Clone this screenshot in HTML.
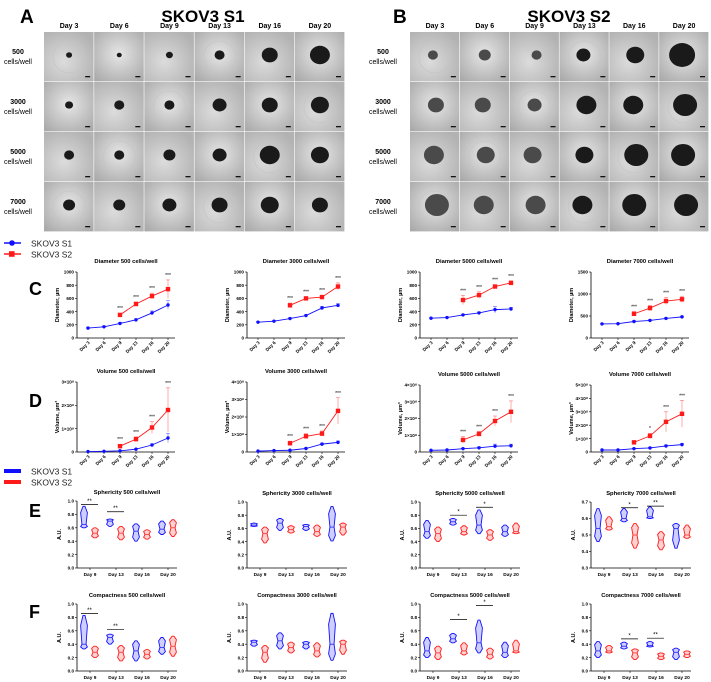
<!DOCTYPE html>
<html><head><meta charset="utf-8">
<style>
html,body{margin:0;padding:0;background:#fff;}
svg{display:block;font-family:"Liberation Sans",Arial,sans-serif;}
</style></head>
<body>
<svg id="fig" width="711" height="682" viewBox="0 0 711 682">
<defs>
<radialGradient id="bg1" cx="50%" cy="45%" r="70%"><stop offset="0" stop-color="#e6e6e6"/><stop offset="1" stop-color="#a9a9a9"/></radialGradient>
<radialGradient id="bg2" cx="40%" cy="60%" r="70%"><stop offset="0" stop-color="#dcdcdc"/><stop offset="1" stop-color="#b2b2b2"/></radialGradient>
</defs>
<g id="gridA"></g>
<g id="gridB"></g>
<g id="charts"></g>
</svg>
<script>
const NS="http://www.w3.org/2000/svg";
const days=["Day 3","Day 6","Day 9","Day 13","Day 16","Day 20"];
const vdays=["Day 9","Day 13","Day 16","Day 20"];
const rowsLbl=["500","3000","5000","7000"];
// spheroid radii (px) per row/day
const sizesA=[[3,2.5,3.5,5,8,10],[4,5,5,7,8,9],[5,5,6,7,10,9],[6,6,7,8,9,8]];
const sizesB=[[5,6,5,7,9,13],[8,8,7,10,10,12],[10,9,9,9,12,12],[12,10,10,10,12,12]];
// line chart data
const diam500S1=[150,170,220,275,380,500], diam500S2=[null,null,350,515,635,740];
const diam500E1=[8,10,15,15,30,65], diam500E2=[0,0,25,30,45,140];
const diam3000S1=[240,255,295,340,455,495], diam3000S2=[null,null,495,600,620,780];
const diam3000E1=[8,8,10,12,25,25], diam3000E2=[0,0,35,25,20,55];
const diam5000S1=[300,310,350,380,430,440], diam5000S2=[null,null,575,650,780,835];
const diam5000E1=[8,8,10,15,50,25], diam5000E2=[0,0,70,50,20,30];
const diam7000S1=[320,325,375,400,445,480], diam7000S2=[null,null,550,680,840,880];
const diam7000E1=[10,10,15,15,15,15], diam7000E2=[0,0,50,60,80,70];
const vol500S1=[0.02,0.03,0.05,0.12,0.3,0.6], vol500S2=[null,null,0.25,0.55,1.05,1.8];
const vol500E1=[0,0,0,0.03,0.05,0.2], vol500E2=[0,0,0.04,0.1,0.25,0.95];
const vol3000S1=[0.05,0.08,0.1,0.2,0.45,0.55], vol3000S2=[null,null,0.5,0.9,1.05,2.35];
const vol3000E1=[0,0,0.02,0.04,0.06,0.08], vol3000E2=[0,0,0.12,0.15,0.15,0.75];
const vol5000S1=[0.1,0.12,0.2,0.25,0.35,0.37], vol5000S2=[null,null,0.72,1.08,1.85,2.4];
const vol5000E1=[0,0,0.03,0.05,0.12,0.1], vol5000E2=[0,0,0.2,0.15,0.3,0.65];
const vol7000S1=[0.15,0.15,0.25,0.3,0.45,0.55], vol7000S2=[null,null,0.72,1.2,2.25,2.85];
const vol7000E1=[0,0,0.03,0.05,0.08,0.08], vol7000E2=[0,0,0.1,0.2,0.75,1.0];
const sigLine500=["","","***","***","***","***"];
const sigLine7000v=["","","","*","***","***"];
// violin data [min,max,median] per day: blue then red
const sph500B=[[0.6,0.92,0.65],[0.62,0.73,0.7],[0.4,0.66,0.55],[0.5,0.7,0.58]];
const sph500R=[[0.45,0.6,0.52],[0.42,0.62,0.52],[0.43,0.57,0.5],[0.47,0.72,0.6]];
const sph3000B=[[0.63,0.68,0.65],[0.57,0.75,0.68],[0.57,0.66,0.63],[0.41,0.93,0.62]];
const sph3000R=[[0.38,0.62,0.52],[0.53,0.64,0.58],[0.48,0.65,0.55],[0.5,0.68,0.62]];
const sph5000B=[[0.45,0.72,0.55],[0.65,0.75,0.7],[0.52,0.88,0.65],[0.48,0.65,0.55]];
const sph5000R=[[0.4,0.62,0.52],[0.5,0.64,0.55],[0.42,0.58,0.5],[0.52,0.68,0.55]];
const sph7000B=[[0.46,0.66,0.54],[0.58,0.66,0.6],[0.6,0.67,0.61],[0.42,0.57,0.54]];
const sph7000R=[[0.53,0.61,0.55],[0.42,0.57,0.5],[0.41,0.52,0.47],[0.48,0.56,0.5]];
const cmp500B=[[0.33,0.83,0.4],[0.4,0.55,0.5],[0.15,0.45,0.3],[0.25,0.5,0.35]];
const cmp500R=[[0.2,0.37,0.28],[0.15,0.38,0.28],[0.18,0.32,0.25],[0.22,0.52,0.37]];
const cmp3000B=[[0.37,0.46,0.43],[0.33,0.57,0.45],[0.33,0.44,0.4],[0.16,0.86,0.4]];
const cmp3000R=[[0.13,0.38,0.28],[0.27,0.43,0.35],[0.21,0.42,0.3],[0.25,0.46,0.4]];
const cmp5000B=[[0.2,0.5,0.3],[0.42,0.56,0.48],[0.27,0.76,0.42],[0.2,0.43,0.28]];
const cmp5000R=[[0.17,0.37,0.27],[0.24,0.42,0.3],[0.18,0.34,0.25],[0.27,0.46,0.3]];
const cmp7000B=[[0.2,0.44,0.3],[0.33,0.43,0.37],[0.36,0.44,0.38],[0.17,0.34,0.28]];
const cmp7000R=[[0.27,0.38,0.3],[0.17,0.33,0.27],[0.17,0.27,0.22],[0.2,0.3,0.25]];
// significance: [dayIndex, level, label]
const sigSph500=[[0,0.95,"**"],[1,0.84,"**"]];
const sigSph5000=[[1,0.8,"*"],[2,0.92,"*"]];
const sigSph7000=[[1,0.665,"*"],[2,0.675,"**"]];
const sigCmp500=[[0,0.86,"**"],[1,0.62,"**"]];
const sigCmp5000=[[1,0.77,"*"],[2,0.98,"*"]];
const sigCmp7000=[[1,0.48,"*"],[2,0.49,"**"]];
const sigNone=[];

const BLUE="#1010ff", RED="#ff1a1a";
function mk(tag,attrs,parent,text){const e=document.createElementNS(NS,tag);for(const k in attrs)e.setAttribute(k,attrs[k]);if(text!=null)e.textContent=text;(parent||document.getElementById('charts')).appendChild(e);return e;}

// ---------- image grids ----------
function grid(gid,x0,sizes,title,letter,lblX,letterX,titleX,blobby){
  const g=document.getElementById(gid);
  const cw=(gid==='gridA'?301:299)/6, rh=50;
  let t=mk('text',{x:titleX,y:22,'font-size':17,'font-weight':'bold','text-anchor':'middle'},g,title);
  
  t=mk('text',{x:letterX,y:23,'font-size':19,'font-weight':'bold'},g,letter);
  
  days.forEach((d,i)=>{const e=mk('text',{x:x0+cw*i+cw/2,y:28,'font-size':7,'font-weight':'bold','text-anchor':'middle'},g,d);
    });
  rowsLbl.forEach((r,j)=>{const y=32+rh*j;
    let e=mk('text',{x:lblX,y:y+22,'font-size':7,'font-weight':'bold','text-anchor':'middle'},g,r);
    
    e=mk('text',{x:lblX,y:y+32,'font-size':7,'text-anchor':'middle'},g,'cells/well');
    
    days.forEach((d,i)=>{const x=x0+cw*i;
      const c=mk('rect',{x:x,y:y,width:cw-0.6,height:rh-0.6,fill:(i+j)%2?'url(#bg1)':'url(#bg2)'},g);
      
      if((i+j)%3===0)mk('circle',{cx:x+cw/2,cy:y+rh/2,r:16,fill:'none',stroke:'#c4c4c4','stroke-width':0.6},g);
      const r=sizes[j][i];
      const s=mk('ellipse',{cx:x+cw/2+(blobby?((i*7+j*3)%5-2):0),cy:y+rh/2-2,rx:r,ry:r*0.92,fill:blobby&&i<3?'#4a4a4a':'#1a1a1a'},g);
      
      const sb=mk('rect',{x:x+cw-9,y:y+rh-6,width:5,height:1.3,fill:'#111'},g);
      
    });
  });
}
grid('gridA',44,sizesA,'SKOV3 S1','A',18,20,203,false);
grid('gridB',410,sizesB,'SKOV3 S2','B',383,393,569,true);

// ---------- legends ----------
function legend(y,style){
  const g=mk('g',{});
  [[BLUE,'SKOV3 S1'],[RED,'SKOV3 S2']].forEach((it,k)=>{const yy=y+k*11;
    if(style==='line'){mk('line',{x1:4,x2:21,y1:yy,y2:yy,stroke:it[0],'stroke-width':1.6},g);
      if(k===0)mk('circle',{cx:12,cy:yy,r:2.8,fill:it[0]},g);else mk('rect',{x:9,y:yy-2.8,width:5.6,height:5.6,fill:it[0]},g);}
    else mk('rect',{x:4,y:yy-2,width:17,height:4,fill:it[0]},g);
    const t=mk('text',{x:31,y:yy+3.5,'font-size':8.5,fill:'#222'},g,it[1]);
    
  });
}
legend(243,'line');legend(471,'bar');

function letter(x,y,s){const t=mk('text',{x:x,y:y,'font-size':18,'font-weight':'bold'},null,s);
  }
letter(29,295,'C');letter(29,407,'D');letter(29,517,'E');letter(29,618,'F');

// ---------- line charts ----------
function lineChart(ax,top,bot,title,ylabel,ymax,ticks,tickLbl,s1,s2,e1,e2,sig){
  const g=mk('g',{});
  const xs=i=>ax+11+i*16, ys=v=>bot-(v/ymax)*(bot-top);
  const right=ax+98;
  let t=mk('text',{x:(ax+right)/2,y:top-9,'font-size':5.8,'font-weight':'bold','text-anchor':'middle'},g,title);
  
  mk('line',{x1:ax,x2:ax,y1:top,y2:bot,stroke:'#000','stroke-width':0.8},g);
  mk('line',{x1:ax,x2:right,y1:bot,y2:bot,stroke:'#000','stroke-width':0.8},g);
  ticks.forEach((v,k)=>{mk('line',{x1:ax-2,x2:ax,y1:ys(v),y2:ys(v),stroke:'#000','stroke-width':0.6},g);
    const l=mk('text',{x:ax-3,y:ys(v)+1.7,'font-size':4.6,'font-weight':'bold','text-anchor':'end'},g,tickLbl[k]);
    });
  t=mk('text',{x:0,y:0,'font-size':5.5,'font-weight':'bold','text-anchor':'middle',transform:`translate(${ax-18},${(top+bot)/2}) rotate(-90)`},g,ylabel);
  
  days.forEach((d,i)=>{mk('line',{x1:xs(i),x2:xs(i),y1:bot,y2:bot+2,stroke:'#000','stroke-width':0.6},g);
    const l=mk('text',{x:0,y:0,'font-size':4.6,'font-weight':'bold','text-anchor':'end',transform:`translate(${xs(i)+2},${bot+5}) rotate(-45)`},g,d);
    });
  [[s1,e1,BLUE,'s1'],[s2,e2,RED,'s2']].forEach(([s,e,c,nm])=>{
    const pts=[];s.forEach((v,i)=>{if(v!=null)pts.push([xs(i),ys(v),i]);});
    const pl=mk('polyline',{points:pts.map(p=>p[0]+','+p[1]).join(' '),fill:'none',stroke:c,'stroke-width':0.9},g);
    
    pts.forEach(p=>{const v=s[p[2]],er=e[p[2]];
      if(er>0){mk('line',{x1:p[0],x2:p[0],y1:ys(v-er),y2:ys(Math.min(v+er,ymax*1.05)),stroke:c,'stroke-width':0.6,opacity:0.6},g);
        mk('line',{x1:p[0]-2,x2:p[0]+2,y1:ys(v+er),y2:ys(v+er),stroke:c,'stroke-width':0.6,opacity:0.6},g);}
      const m=nm==='s1'?mk('circle',{cx:p[0],cy:p[1],r:1.7,fill:c},g):mk('rect',{x:p[0]-2.2,y:p[1]-2.2,width:4.4,height:4.4,fill:c},g);
      });
  });
  sig.forEach((sg,i)=>{if(!sg||s2[i]==null)return;const yy=ys(s2[i]+e2[i])-3;
    const l=mk('text',{x:xs(i),y:Math.min(yy,ys(s2[i])-5),'font-size':5,'text-anchor':'middle'},g,sg);
    });
}
const cols=[77,247,420,591];
const dT=[0,200,400,600,800,1000], dL=["0","200","400","600","800","1000"];
lineChart(cols[0],272,338,'Diameter 500 cells/well','Diameter, µm',1000,dT,dL,diam500S1,diam500S2,diam500E1,diam500E2,sigLine500);
lineChart(cols[1],272,338,'Diameter 3000 cells/well','Diameter, µm',1000,dT,dL,diam3000S1,diam3000S2,diam3000E1,diam3000E2,sigLine500);
lineChart(cols[2],272,338,'Diameter 5000 cells/well','Diameter, µm',1000,dT,dL,diam5000S1,diam5000S2,diam5000E1,diam5000E2,sigLine500);
lineChart(cols[3],272,338,'Diameter 7000 cells/well','Diameter, µm',1500,[0,500,1000,1500],["0","500","1000","1500"],diam7000S1,diam7000S2,diam7000E1,diam7000E2,sigLine500);
lineChart(cols[0],382,452,'Volume 500 cells/well','Volume, µm³',3,[0,1,2,3],["0","1×10⁸","2×10⁸","3×10⁸"],vol500S1,vol500S2,vol500E1,vol500E2,sigLine500);
lineChart(cols[1],382,452,'Volume 3000 cells/well','Volume, µm³',4,[0,1,2,3,4],["0","1×10⁸","2×10⁸","3×10⁸","4×10⁸"],vol3000S1,vol3000S2,vol3000E1,vol3000E2,sigLine500);
lineChart(cols[2],385,452,'Volume 5000 cells/well','Volume, µm³',4,[0,1,2,3,4],["0","1×10⁸","2×10⁸","3×10⁸","4×10⁸"],vol5000S1,vol5000S2,vol5000E1,vol5000E2,sigLine500);
lineChart(cols[3],385,452,'Volume 7000 cells/well','Volume, µm³',5,[0,1,2,3,4,5],["0","1×10⁸","2×10⁸","3×10⁸","4×10⁸","5×10⁸"],vol7000S1,vol7000S2,vol7000E1,vol7000E2,sigLine7000v);

// ---------- violin charts ----------
function violin(ax,top,bot,title,ymin,ymax,ticks,B,R,sig){
  const g=mk('g',{});
  const ys=v=>bot-(v-ymin)/(ymax-ymin)*(bot-top), gx=i=>ax+12+i*26, right=ax+100;
  let t=mk('text',{x:(ax+right)/2,y:top-7,'font-size':5.8,'font-weight':'bold','text-anchor':'middle'},g,title);
  
  mk('line',{x1:ax,x2:ax,y1:top,y2:bot,stroke:'#000','stroke-width':0.8},g);
  mk('line',{x1:ax,x2:right,y1:bot,y2:bot,stroke:'#000','stroke-width':0.8},g);
  ticks.forEach(v=>{mk('line',{x1:ax-2,x2:ax,y1:ys(v),y2:ys(v),stroke:'#000','stroke-width':0.6},g);
    const l=mk('text',{x:ax-3,y:ys(v)+1.7,'font-size':4.6,'font-weight':'bold','text-anchor':'end'},g,v.toFixed(1));
    });
  t=mk('text',{x:0,y:0,'font-size':5.5,'font-weight':'bold','text-anchor':'middle',transform:`translate(${ax-16},${(top+bot)/2}) rotate(-90)`},g,'A.U.');
  
  vdays.forEach((d,i)=>{mk('line',{x1:gx(i)+1,x2:gx(i)+1,y1:bot,y2:bot+2,stroke:'#000','stroke-width':0.6},g);
    const l=mk('text',{x:gx(i)+1,y:bot+8,'font-size':4.8,'font-weight':'bold','text-anchor':'middle'},g,d);
    });
  [[B,BLUE,-5,'s1'],[R,RED,6,'s2']].forEach(([arr,c,off,nm])=>{arr.forEach((v,i)=>{
    const cx=gx(i)+off,y0=ys(v[0]),y1=ys(v[1]),ym=ys(v[2]),w=3.4;
    const d=`M${cx-1},${y1} L${cx+1},${y1} L${cx+w},${y1+(ym-y1)*0.35} L${cx+w*0.6},${ym} L${cx+w},${ym+(y0-ym)*0.6} L${cx+1},${y0} L${cx-1},${y0} L${cx-w},${ym+(y0-ym)*0.6} L${cx-w*0.6},${ym} L${cx-w},${y1+(ym-y1)*0.35}Z`;
    const p=mk('path',{d:d,fill:c,'fill-opacity':0.2,stroke:c,'stroke-width':0.9,'stroke-linejoin':'round'},g);
    
    mk('line',{x1:cx-w*0.6,x2:cx+w*0.6,y1:ym,y2:ym,stroke:c,'stroke-width':0.7},g);
  });});
  sig.forEach(s=>{const y=ys(s[1]);
    mk('line',{x1:gx(s[0])-8,x2:gx(s[0])+9,y1:y,y2:y,stroke:'#000','stroke-width':0.7},g);
    const l=mk('text',{x:gx(s[0])+0.5,y:y-1.5,'font-size':6,'text-anchor':'middle'},g,s[2]);
    });
}
const uT=[0,0.2,0.4,0.6,0.8,1.0];
violin(cols[0],501,568,'Sphericity 500 cells/well',0,1,uT,sph500B,sph500R,sigSph500);
violin(cols[1],502,568,'Sphericity 3000 cells/well',0,1,uT,sph3000B,sph3000R,sigNone);
violin(cols[2],502,568,'Sphericity 5000 cells/well',0,1,uT,sph5000B,sph5000R,sigSph5000);
violin(cols[3],502,568,'Sphericity 7000 cells/well',0.3,0.7,[0.3,0.4,0.5,0.6,0.7],sph7000B,sph7000R,sigSph7000);
violin(cols[0],604,671,'Compactness 500 cells/well',0,1,uT,cmp500B,cmp500R,sigCmp500);
violin(cols[1],604,671,'Compactness 3000 cells/well',0,1,uT,cmp3000B,cmp3000R,sigNone);
violin(cols[2],604,671,'Compactness 5000 cells/well',0,1,uT,cmp5000B,cmp5000R,sigCmp5000);
violin(cols[3],604,671,'Compactness 7000 cells/well',0,1,uT,cmp7000B,cmp7000R,sigCmp7000);
</script>
</body></html>
